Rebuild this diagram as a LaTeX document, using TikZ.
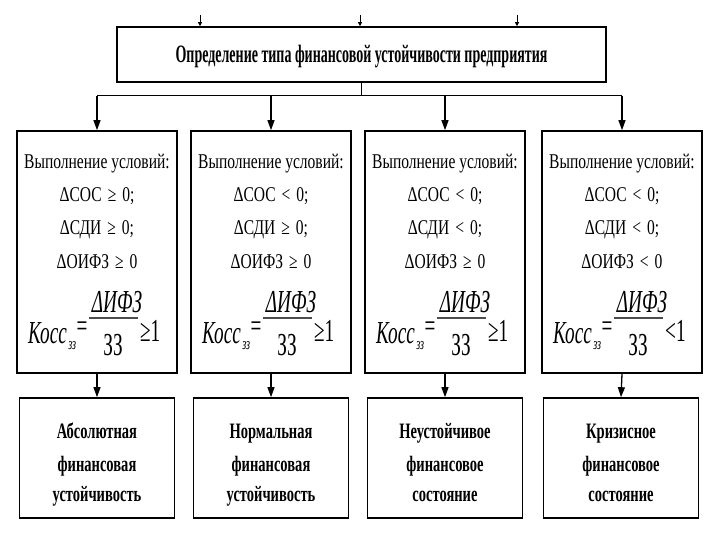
\documentclass[tikz,border=0pt]{standalone}
\usepackage{fontspec}
\setmainfont{Liberation Serif}
\newfontfamily\cond[FakeStretch=0.74]{Liberation Serif}
\newfontfamily\condtitle[FakeStretch=0.56]{Liberation Serif}
\newfontfamily\condres[FakeStretch=0.66]{Liberation Serif}
\newfontfamily\condform[FakeStretch=0.6]{Liberation Serif}
\usetikzlibrary{arrows.meta,calc}
\tikzset{
  box/.style={draw=black,line width=1.6pt,fill=white,inner sep=0pt},
  topbox/.style={box,minimum width=489pt,minimum height=55pt},
  midbox/.style={box,minimum width=160pt,minimum height=242pt},
  botbox/.style={box,minimum width=155pt,minimum height=120pt},
  conn/.style={line width=1.3pt},
  arr/.style={conn,-{Triangle[length=10pt,width=7pt]}},
  tinyarr/.style={line width=0.8pt,-{Triangle[length=4pt,width=4pt]}},
  title/.style={font=\fontsize{25}{29}\selectfont\condtitle\bfseries,inner sep=0pt},
  cond/.style={font=\fontsize{21}{25}\selectfont\cond,inner sep=0pt},
  form/.style={font=\fontsize{32}{36}\selectfont\condform,inner sep=0pt,anchor=base},
  formit/.style={form,font=\fontsize{32}{36}\selectfont\condform\itshape},
  formsub/.style={inner sep=0pt,anchor=base west,font=\fontsize{17}{18}\selectfont\condform\itshape},
  fracbar/.style={line width=1.6pt,draw=black!70},
  result/.style={font=\fontsize{22}{26}\selectfont\condres\bfseries,inner sep=0pt,anchor=base}
}
\begin{document}
\begin{tikzpicture}[x=1pt,y=-1pt]
\useasboundingbox (0,0) rectangle (720,540);
\fill[white] (0,0) rectangle (720,540);

% top box
\node[topbox] (t) at (361.5,54.5) {};
\node[title] (tt) at ($(t.center)+(0,2)$) {Определение типа финансовой устойчивости предприятия};

% tiny arrows above the top box
\coordinate (s1) at (200,15);
\coordinate (s2) at (360,15);
\coordinate (s3) at (517,15);
\foreach \s in {s1,s2,s3} \draw[tinyarr] (\s) -- (\s |- t.north);

% middle boxes
\node[midbox] (m1) at (97,252) {};
\node[midbox] (m2) at (271,252) {};
\node[midbox] (m3) at (445,252) {};
\node[midbox] (m4) at (622,252) {};

% bottom boxes
\node[botbox] (b1) at (97,458) {};
\node[botbox] (b2) at (271,458) {};
\node[botbox] (b3) at (445,458) {};
\node[botbox] (b4) at (621,458) {};

% connectors
\draw[conn] (t.south) -- ++(0,13) coordinate (j);
\draw[conn] (m1.north |- j) -- (m4.north |- j);
\foreach \m in {m1,m2,m3,m4} \draw[arr] (\m.north |- j) -- (\m.north);
\foreach \m/\b in {m1/b1,m2/b2,m3/b3,m4/b4} \draw[arr] (\m.south) -- (\b.north);

% conditions and ratio
\foreach \m/\a/\b/\c/\f in {m1/≥/≥/≥/≥1, m2/</≥/≥/≥1, m3/</</≥/≥1, m4/</</</<1}{
  \node[cond] (\m h) at ($(\m.north)+(0,33)$) {Выполнение условий:};
  \node[cond] (\m a) at ($(\m.north)+(0,66)$) {ΔСОС\hspace{6pt}\a\hspace{6pt}0;};
  \node[cond] (\m b) at ($(\m.north)+(0,100)$) {ΔСДИ\hspace{6pt}\b\hspace{6pt}0;};
  \node[cond] (\m c) at ($(\m.north)+(0,131)$) {ΔОИФЗ\hspace{6pt}\c\hspace{6pt}0};
  \node[formit,anchor=base west] (\m k) at ($(\m.center)+(-69,91)$) {Косс};
  \node[formsub] (\m s) at ($(\m k.base east)+(1,6)$) {зз};
  \node[form,anchor=center] (\m e) at ($(\m.center)+(-15,77)$) {=};
  \draw[fracbar] ($(\m.center)+(-8,66)$) coordinate (\m l) -- ($(\m.center)+(41,66)$) coordinate (\m r);
  \node[formit] (\m n) at ($(\m.center)+(20,60)$) {ΔИФЗ};
  \node[form] (\m d) at ($(\m.center)+(16,103)$) {ЗЗ};
  \node[form,anchor=base west] (\m g) at ($(\m.center)+(43,89)$) {\f};
}

% results (one node per line, aligned on baselines)
\foreach \b/\l/\ll/\lll in {b1/Абсолютная/финансовая/устойчивость,
                            b2/Нормальная/финансовая/устойчивость,
                            b3/Неустойчивое/финансовое/состояние,
                            b4/Кризисное/финансовое/состояние}{
  \node[result] (\b x) at ($(\b.north)+(0,41)$) {\l};
  \node[result] (\b y) at ($(\b.north)+(0,74)$) {\ll};
  \node[result] (\b z) at ($(\b.north)+(0,104)$) {\lll};
}
\end{tikzpicture}
\end{document}
